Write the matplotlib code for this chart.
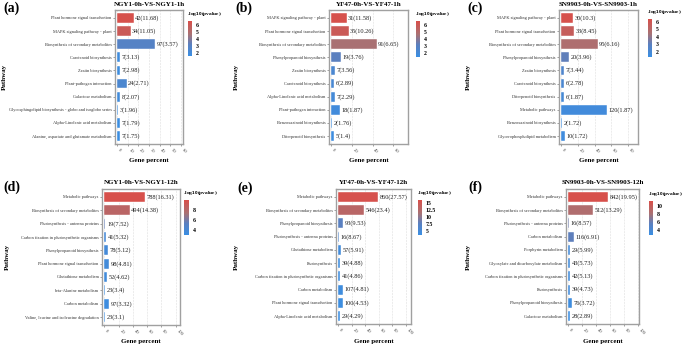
"""
KEGG enrichment bar charts, six comparisons (0h vs 1h / 0h vs 12h).
Bar length = gene percent, colour = -log10(pvalue), label = count(value).
"""

import matplotlib
matplotlib.use('Agg')
import matplotlib.pyplot as plt
from matplotlib.colors import LinearSegmentedColormap, Normalize
from matplotlib.colorbar import ColorbarBase

plt.rcParams['font.family'] = ['Liberation Serif', 'DejaVu Serif']

# ---------------- data ----------------
# (a) NGY1-0h-VS-NGY1-1h
a_paths = ['Plant hormone signal transduction', 'MAPK signaling pathway - plant',
           'Biosynthesis of secondary metabolites', 'Carotenoid biosynthesis',
           'Zeatin biosynthesis', 'Plant-pathogen interaction', 'Galactose metabolism',
           'Glycosphingolipid biosynthesis - globo and isoglobo series',
           'Alpha-Linolenic acid metabolism', 'Alanine, aspartate and glutamate metabolism']
a_counts = [42, 34, 97, 7, 7, 24, 8, 3, 7, 7]
a_vals = ['11.68', '11.05', '3.57', '3.13', '2.98', '2.71', '2.07', '1.96', '1.79', '1.75']
a_pct = [15.6, 12.6, 35.9, 2.6, 2.6, 8.9, 3.0, 1.1, 2.6, 2.6]
a_logp = [6.5, 6.0, 3.0, 1.9, 1.8, 2.5, 2.0, 1.8, 1.7, 1.7]

# (b) YF47-0h-VS-YF47-1h
b_paths = ['MAPK signaling pathway - plant', 'Plant hormone signal transduction',
           'Biosynthesis of secondary metabolites', 'Phenylpropanoid biosynthesis',
           'Zeatin biosynthesis', 'Carotenoid biosynthesis', 'Alpha-Linolenic acid metabolism',
           'Plant-pathogen interaction', 'Benzoxazinoid biosynthesis', 'Diterpenoid biosynthesis']
b_counts = [31, 35, 91, 19, 7, 6, 7, 18, 2, 5]
b_vals = ['11.58', '10.26', '6.65', '3.76', '3.56', '2.89', '2.29', '1.87', '1.76', '1.4']
b_pct = [14.9, 16.8, 43.7, 9.1, 3.4, 2.9, 3.4, 8.7, 1.0, 2.4]
b_logp = [6.4, 5.9, 4.6, 3.1, 2.3, 2.2, 2.0, 1.8, 1.6, 1.6]

# (c) SN9903-0h-VS-SN9903-1h
c_paths = ['MAPK signaling pathway - plant', 'Plant hormone signal transduction',
           'Biosynthesis of secondary metabolites', 'Phenylpropanoid biosynthesis',
           'Zeatin biosynthesis', 'Carotenoid biosynthesis', 'Diterpenoid biosynthesis',
           'Metabolic pathways', 'Benzoxazinoid biosynthesis', 'Glycerophospholipid metabolism']
c_counts = [30, 33, 95, 20, 7, 6, 6, 120, 2, 10]
c_vals = ['10.3', '8.45', '6.16', '3.96', '3.44', '2.78', '1.87', '1.87', '1.72', '1.72']
c_pct = [13.7, 15.1, 43.4, 9.1, 3.2, 2.7, 2.7, 54.8, 0.9, 4.6]
c_logp = [6.3, 5.6, 4.7, 3.1, 2.4, 2.2, 2.0, 1.7, 1.5, 1.6]

# (d) NGY1-0h-VS-NGY1-12h
d_paths = ['Metabolic pathways', 'Biosynthesis of secondary metabolites',
           'Photosynthesis - antenna proteins', 'Carbon fixation in photosynthetic organisms',
           'Phenylpropanoid biosynthesis', 'Plant hormone signal transduction',
           'Glutathione metabolism', 'beta-Alanine metabolism', 'Carbon metabolism',
           'Valine, leucine and isoleucine degradation']
d_counts = [788, 494, 19, 41, 78, 98, 52, 23, 97, 23]
d_vals = ['16.31', '14.38', '7.52', '5.32', '5.12', '4.81', '4.62', '3.4', '3.32', '3.1']
d_pct = [56.5, 35.4, 1.4, 2.9, 5.6, 7.0, 3.7, 1.6, 7.0, 1.6]
d_logp = [9.9, 8.3, 5.6, 3.9, 3.8, 3.7, 3.6, 3.4, 3.3, 3.2]

# (e) YF47-0h-VS-YF47-12h
e_paths = ['Metabolic pathways', 'Biosynthesis of secondary metabolites',
           'Phenylpropanoid biosynthesis', 'Photosynthesis - antenna proteins',
           'Glutathione metabolism', 'Photosynthesis',
           'Carbon fixation in photosynthetic organisms', 'Carbon metabolism',
           'Plant hormone signal transduction', 'Alpha-Linolenic acid metabolism']
e_counts = [860, 546, 93, 16, 57, 39, 41, 107, 100, 29]
e_vals = ['27.57', '23.4', '9.53', '8.67', '5.91', '4.88', '4.86', '4.81', '4.53', '4.29']
e_pct = [59.6, 37.8, 6.4, 1.1, 4.0, 2.7, 2.8, 7.4, 6.9, 2.0]
e_logp = [15.8, 13.0, 7.8, 6.8, 4.8, 4.4, 4.4, 4.3, 4.1, 3.9]

# (f) SN9903-0h-VS-SN9903-12h
f_paths = ['Metabolic pathways', 'Biosynthesis of secondary metabolites',
           'Photosynthesis - antenna proteins', 'Carbon metabolism', 'Porphyrin metabolism',
           'Glyoxylate and dicarboxylate metabolism',
           'Carbon fixation in photosynthetic organisms', 'Photosynthesis',
           'Phenylpropanoid biosynthesis', 'Galactose metabolism']
f_counts = [842, 512, 16, 116, 29, 43, 42, 39, 76, 28]
f_vals = ['19.95', '13.29', '8.57', '6.91', '5.99', '5.73', '5.13', '4.73', '3.72', '2.89']
f_pct = [58.0, 35.3, 1.1, 8.0, 2.0, 3.0, 2.9, 2.7, 5.2, 1.9]
f_logp = [11.1, 8.5, 6.3, 5.7, 3.7, 3.6, 3.5, 3.4, 3.2, 3.0]

titles = ['NGY1-0h-VS-NGY1-1h', 'YF47-0h-VS-YF47-1h', 'SN9903-0h-VS-SN9903-1h',
          'NGY1-0h-VS-NGY1-12h', 'YF47-0h-VS-YF47-12h', 'SN9903-0h-VS-SN9903-12h']
letters = ['(a)', '(b)', '(c)', '(d)', '(e)', '(f)']

# ---------------- layout (pixel boxes) ----------------
W, H = 685, 344
fig = plt.figure(figsize=(W / 100, H / 100), dpi=100, facecolor='white')


def box(x0, y0, x1, y1):
    return fig.add_axes([x0 / W, 1 - y1 / H, (x1 - x0) / W, (y1 - y0) / H])


cmap = LinearSegmentedColormap.from_list(
    'kegg', [(0, '#3a8fe3'), (0.33, '#5a80c0'), (0.62, '#a87274'), (1, '#d94f4a')])

panels = [
    dict(paths=a_paths, counts=a_counts, vals=a_vals, pct=a_pct, logp=a_logp,
         ax=(115, 10, 183, 144), cb=(188, 21, 192, 56), xlim=(-2, 62),
         xt=[0, 10, 20, 30, 40, 50, 60], crange=(1.57, 6.6), ct=[2, 3, 4, 5, 6],
         ctl=['2', '3', '4', '5', '6'], letter=(3, 8), ylab=4),
    dict(paths=b_paths, counts=b_counts, vals=b_vals, pct=b_pct, logp=b_logp,
         ax=(329, 10, 408, 144), cb=(416, 21, 420, 57), xlim=(-2, 74),
         xt=[0, 20, 40, 60], crange=(1.4, 6.5), ct=[2, 3, 4, 5, 6],
         ctl=['2', '3', '4', '5', '6'], letter=(235, 8), ylab=236),
    dict(paths=c_paths, counts=c_counts, vals=c_vals, pct=c_pct, logp=c_logp,
         ax=(559, 10, 638, 144), cb=(648, 19, 652, 57), xlim=(-2.8, 92),
         xt=[0, 20, 40, 60, 80], crange=(1.3, 6.4), ct=[2, 3, 4, 5, 6],
         ctl=['2', '3', '4', '5', '6'], letter=(467, 8), ylab=468),
    dict(paths=d_paths, counts=d_counts, vals=d_vals, pct=d_pct, logp=d_logp,
         ax=(102, 189, 180, 325), cb=(184, 200, 189, 235), xlim=(-3.3, 106),
         xt=[0, 20, 40, 60, 80, 100], crange=(3.0, 10.0), ct=[4, 6, 8],
         ctl=['4', '6', '8'], letter=(3, 187), ylab=7),
    dict(paths=e_paths, counts=e_counts, vals=e_vals, pct=e_pct, logp=e_logp,
         ax=(336, 189, 411, 324), cb=(418, 200, 422, 235), xlim=(-3.4, 108),
         xt=[0, 20, 40, 60, 80, 100], crange=(3.7, 16.1), ct=[5, 7.5, 10, 12.5, 15],
         ctl=['5', '7.5', '10', '12.5', '15'], letter=(237, 188), ylab=236),
    dict(paths=f_paths, counts=f_counts, vals=f_vals, pct=f_pct, logp=f_logp,
         ax=(566, 189, 639, 324), cb=(649, 201, 653, 235), xlim=(-3.3, 102),
         xt=[0, 20, 40, 60, 80, 100], crange=(2.8, 11.2), ct=[4, 6, 8, 10],
         ctl=['4', '6', '8', '10'], letter=(468, 187), ylab=468),
]

for p, title, letter in zip(panels, titles, letters):
    x0, y0, x1, y1 = p['ax']
    ax = box(x0, y0, x1, y1)
    norm = Normalize(*p['crange'])
    n = len(p['paths'])
    ypos = list(range(n))[::-1]
    colors = [cmap(norm(v)) for v in p['logp']]
    ax.barh(ypos, p['pct'], height=0.75, color=colors, edgecolor='white',
            linewidth=0.3, zorder=3)
    for y, pc, cnt, v in zip(ypos, p['pct'], p['counts'], p['vals']):
        ax.annotate(f'{cnt}({v})', (pc, y), xytext=(1.2, 0), textcoords='offset points',
                    ha='left', va='center', fontsize=4.6, color='#222222', zorder=4)

    ax.set_xlim(*p['xlim'])
    ax.set_ylim(-0.6, n - 0.4)
    ax.set_yticks(ypos)
    ax.set_yticklabels(p['paths'], fontsize=3.2, color='#333333')
    ax.set_xticks(p['xt'])
    ax.set_xticklabels([str(t) for t in p['xt']], fontsize=3.4, color='#444444',
                       rotation=-45, ha='left', va='top', rotation_mode='default')
    ax.tick_params(axis='both', length=1.5, width=0.4, color='#555555', pad=1)
    ax.grid(True, axis='x', linestyle='--', linewidth=0.4, color='#dddddd', zorder=0)
    for s in ax.spines.values():
        s.set_color('#a0a0a0')
        s.set_linewidth(1.0)

    # titles and axis labels
    fig.text((x0 + x1) / 2 / W, 1 - 4 / H if y0 < 100 else 1 - 183 / H, title,
             ha='center', va='center', fontsize=5, fontweight='bold')
    fig.text(p['letter'][0] / W, 1 - p['letter'][1] / H, letter, ha='left', va='center',
             fontsize=10, fontweight='bold')
    fig.text(p['ylab'] / W, 1 - ((y0 + y1) / 2) / H, 'Pathway', rotation=90,
             ha='center', va='center', fontsize=5, fontweight='bold')
    fig.text((x0 + x1) / 2 / W, 1 - (y1 + 17) / H, 'Gene percent',
             ha='center', va='center', fontsize=5, fontweight='bold')

    # colour bar legend
    cx0, cy0, cx1, cy1 = p['cb']
    cax = box(cx0, cy0, cx1, cy1)
    cb = ColorbarBase(cax, cmap=cmap, norm=norm, orientation='vertical')
    cb.outline.set_visible(False)
    cb.set_ticks(p['ct'])
    cb.set_ticklabels(p['ctl'])
    cax.tick_params(labelsize=4.2, length=1.2, width=0.4, color='white', pad=1.5)
    for t in cax.get_yticklabels():
        t.set_fontweight('bold')
    fig.text((cx0 - 1) / W, 1 - (cy0 - 7) / H, r'-log$_{\mathbf{10}}$(pvalue)',
             ha='left', va='center', fontsize=3.9, fontweight='bold')

fig.savefig('out.png', dpi=100, facecolor='white')
plt.close(fig)
